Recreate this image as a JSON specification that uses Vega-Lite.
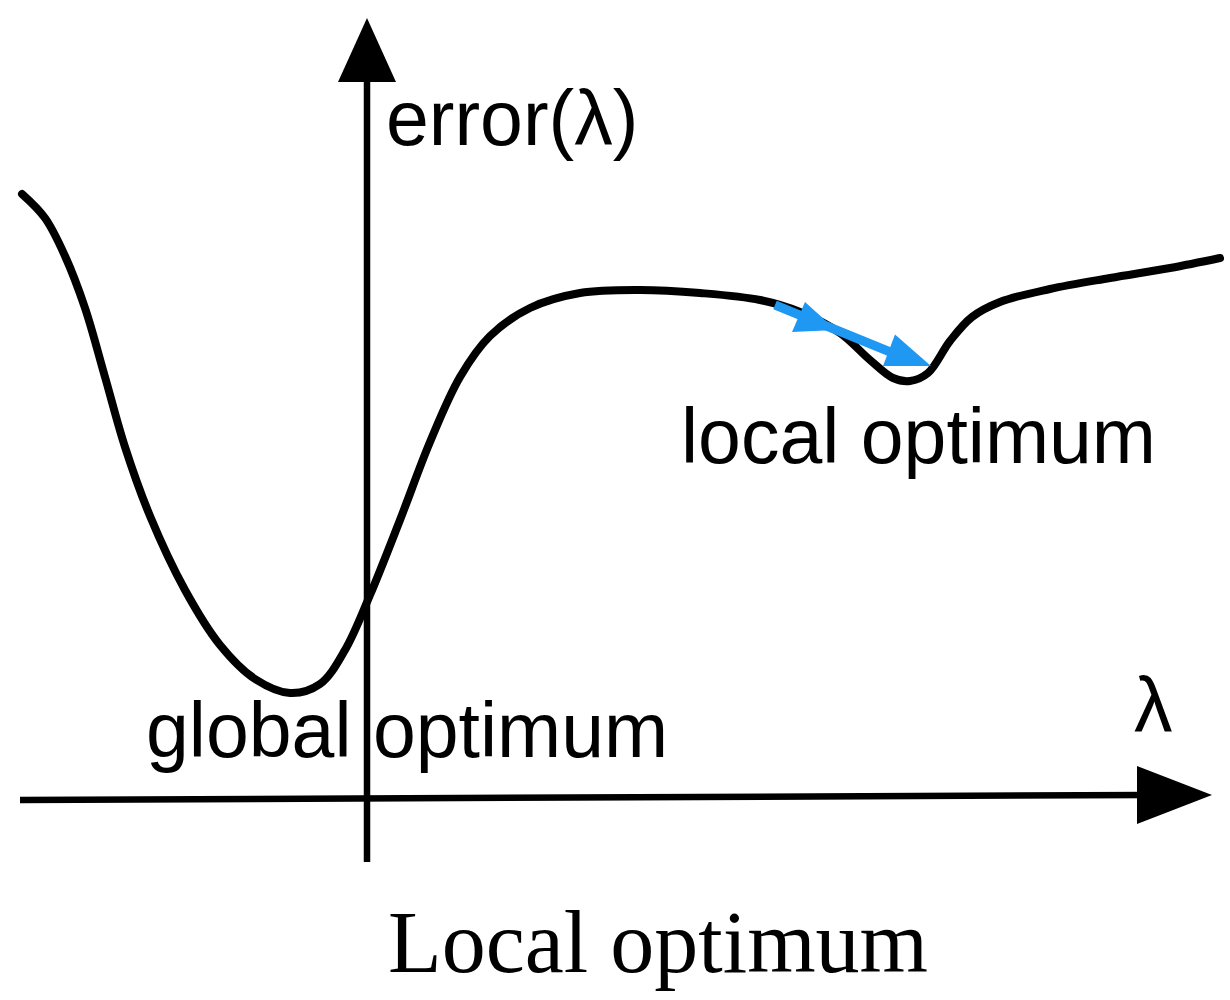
{
  "$schema": "https://vega.github.io/schema/vega-lite/v6.json",
  "width": 1230,
  "height": 1000,
  "autosize": {"type": "fit", "contains": "padding"},
  "padding": 0,
  "background": "white",
  "config": {"view": {"stroke": null}},
  "datasets": {
    "curve": [
      {"x": 22, "y": 194}, {"x": 45, "y": 218}, {"x": 65, "y": 256}, {"x": 85, "y": 308},
      {"x": 105, "y": 377}, {"x": 125, "y": 447}, {"x": 150, "y": 516}, {"x": 185, "y": 590},
      {"x": 220, "y": 645}, {"x": 255, "y": 679}, {"x": 290, "y": 693}, {"x": 320, "y": 684},
      {"x": 345, "y": 650}, {"x": 370, "y": 595}, {"x": 400, "y": 520}, {"x": 430, "y": 442},
      {"x": 460, "y": 377}, {"x": 490, "y": 336}, {"x": 530, "y": 308}, {"x": 580, "y": 293},
      {"x": 640, "y": 290}, {"x": 700, "y": 293}, {"x": 760, "y": 300}, {"x": 800, "y": 312},
      {"x": 840, "y": 333}, {"x": 870, "y": 360}, {"x": 893, "y": 378}, {"x": 910, "y": 381},
      {"x": 928, "y": 373}, {"x": 950, "y": 341}, {"x": 972, "y": 317}, {"x": 1000, "y": 302},
      {"x": 1050, "y": 289}, {"x": 1110, "y": 278}, {"x": 1170, "y": 268}, {"x": 1220, "y": 258}
    ],
    "axes": [
      {"s": "v", "i": 0, "x": 367, "y": 862}, {"s": "v", "i": 1, "x": 367, "y": 78},
      {"s": "h", "i": 0, "x": 20, "y": 800}, {"s": "h", "i": 1, "x": 1145, "y": 795}
    ],
    "heads": [
      {"x": 367, "y": 18, "shape": "M0,0L-0.906,2L0.906,2Z", "size": 4096},
      {"x": 1212, "y": 795, "shape": "M0,0L-2,-0.773L-2,0.773Z", "size": 5625}
    ],
    "blue": [
      {"i": 0, "x": 775, "y": 305}, {"i": 1, "x": 905, "y": 358}
    ],
    "blueheads": [
      {"x": 836, "y": 330, "shape": "M0,0L-1.24,-1.12L-1.76,0.08Z"},
      {"x": 931, "y": 366, "shape": "M0,0L-1.44,-1.26L-1.92,0Z"}
    ],
    "labels": [
      {"x": 386, "y": 145, "t": "error(λ)"},
      {"x": 681, "y": 463, "t": "local optimum"},
      {"x": 146, "y": 757, "t": "global optimum"},
      {"x": 1134, "y": 732, "t": "λ"}
    ],
    "caption": [
      {"x": 658, "y": 972, "t": "Local optimum"}
    ]
  },
  "encoding": {
    "x": {"field": "x", "type": "quantitative", "scale": {"domain": [0, 1230], "nice": false, "zero": false}, "axis": null},
    "y": {"field": "y", "type": "quantitative", "scale": {"domain": [0, 1000], "nice": false, "zero": false, "reverse": true}, "axis": null}
  },
  "layer": [
    {
      "data": {"name": "curve"},
      "mark": {"type": "line", "color": "black", "strokeWidth": 8, "interpolate": "catmull-rom", "strokeCap": "round", "strokeJoin": "round"}
    },
    {
      "data": {"name": "axes"},
      "mark": {"type": "line", "color": "black", "strokeWidth": 6.5},
      "encoding": {"detail": {"field": "s"}, "order": {"field": "i"}}
    },
    {
      "data": {"name": "heads"},
      "mark": {"type": "point", "filled": true, "color": "black", "opacity": 1, "strokeWidth": 0},
      "encoding": {
        "shape": {"field": "shape", "type": "nominal", "scale": null},
        "size": {"field": "size", "type": "quantitative", "scale": null}
      }
    },
    {
      "data": {"name": "blue"},
      "mark": {"type": "line", "color": "#1E98F2", "strokeWidth": 9},
      "encoding": {"order": {"field": "i"}}
    },
    {
      "data": {"name": "blueheads"},
      "mark": {"type": "point", "filled": true, "color": "#1E98F2", "opacity": 1, "strokeWidth": 0, "size": 2500},
      "encoding": {
        "shape": {"field": "shape", "type": "nominal", "scale": null}
      }
    },
    {
      "data": {"name": "labels"},
      "mark": {"type": "text", "align": "left", "baseline": "alphabetic", "font": "Liberation Sans", "fontSize": 77, "color": "black"},
      "encoding": {"text": {"field": "t"}}
    },
    {
      "data": {"name": "caption"},
      "mark": {"type": "text", "align": "center", "baseline": "alphabetic", "font": "Liberation Serif", "fontSize": 88, "color": "black"},
      "encoding": {"text": {"field": "t"}}
    }
  ]
}
